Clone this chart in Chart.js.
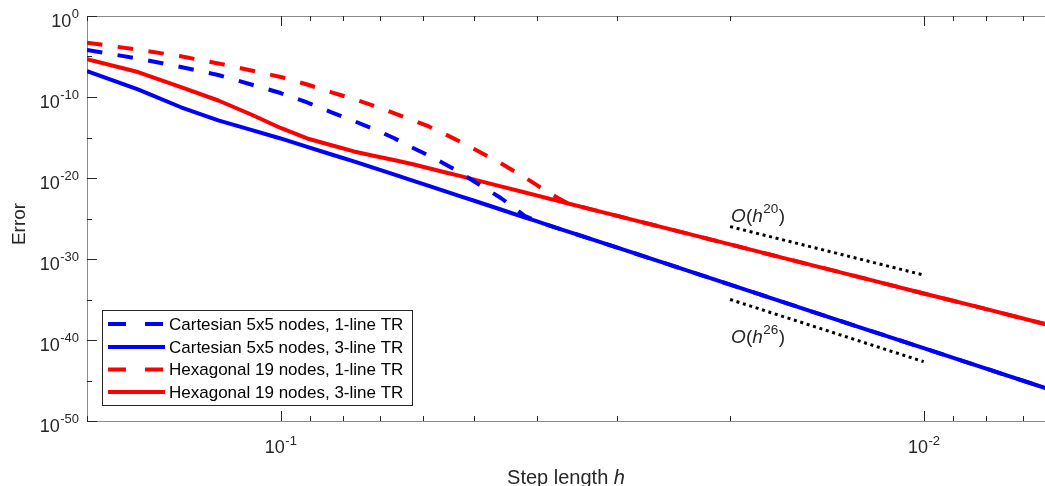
<!DOCTYPE html>
<html><head><meta charset="utf-8">
<script src="https://cdn.jsdelivr.net/npm/chart.js@4/dist/chart.umd.min.js"></script>
<style>html,body{margin:0;padding:0;background:#fff;overflow:hidden}canvas{display:block}</style>
</head><body>
<canvas id="c" width="1045" height="486"></canvas>
<script>
// step lengths h = 1/n
const stepLengths = [0.2, 0.16667, 0.14286, 0.125, 0.11111, 0.1, 0.09091, 0.08333, 0.07692, 0.07143,
  0.06667, 0.0625, 0.05882, 0.05556, 0.05263, 0.05, 0.04545, 0.04167, 0.04, 0.03846,
  0.03704, 0.03571, 0.03333, 0.025, 0.02, 0.01667, 0.0125, 0.01, 0.00833, 0.00667, 0.00625];

const cartesian1Line = [6.3e-5, 5.6e-6, 5.0e-7, 5.2e-8, 3.5e-9, 3.1e-10, 2.1e-11, 1.3e-12, 1.1e-13, 9.8e-15,
  8.7e-16, 5.9e-17, 6.0e-18, 5.4e-19, 4.8e-20, 3.7e-21, 3.4e-23, 2.0e-25, 4.7e-26, 1.66e-26,
  6.2e-27, 2.4e-27, 4.0e-28, 2.3e-31, 6.8e-34, 5.9e-36, 3.2e-39, 9.8e-42, 8.5e-44, 2.6e-46, 4.8e-47];

const cartesian3Line = [1.6e-7, 8.5e-10, 5.4e-12, 1.3e-13, 8.9e-15, 7.6e-16, 6.8e-17, 7.9e-18, 1.1e-18, 1.7e-19,
  2.8e-20, 5.2e-21, 1.05e-21, 2.4e-22, 5.9e-23, 1.55e-23, 1.3e-24, 1.3e-25, 4.7e-26, 1.66e-26,
  6.2e-27, 2.4e-27, 4.0e-28, 2.3e-31, 6.8e-34, 5.9e-36, 3.2e-39, 9.8e-42, 8.5e-44, 2.6e-46, 4.8e-47];

const hexagonal1Line = [5.0e-4, 7.1e-5, 1.05e-5, 1.4e-6, 1.9e-7, 3.0e-8, 3.5e-9, 3.8e-10, 5.6e-11, 7.8e-12,
  1.0e-12, 1.55e-13, 2.3e-14, 2.7e-15, 3.2e-16, 3.8e-17, 6.5e-19, 1.15e-20, 1.4e-21, 1.9e-22,
  3.4e-23, 7.2e-24, 1.8e-24, 5.6e-27, 6.3e-29, 1.6e-30, 5.0e-33, 5.6e-35, 1.5e-36, 1.66e-38, 4.7e-39];

const hexagonal3Line = [4.5e-6, 1.2e-7, 1.7e-9, 3.7e-11, 6.9e-13, 1.5e-14, 7.6e-16, 1.1e-16, 1.9e-17, 5.2e-18,
  1.7e-18, 5.4e-19, 1.6e-19, 5.2e-20, 1.8e-20, 6.2e-21, 9.1e-22, 1.6e-22, 7.1e-23, 3.2e-23,
  1.5e-23, 7.2e-24, 1.8e-24, 5.6e-27, 6.3e-29, 1.6e-30, 5.0e-33, 5.6e-35, 1.5e-36, 1.66e-38, 4.7e-39];

const seriesLabels = ['Cartesian 5x5 nodes, 1-line TR', 'Cartesian 5x5 nodes, 3-line TR',
  'Hexagonal 19 nodes, 1-line TR', 'Hexagonal 19 nodes, 3-line TR'];

// reference slopes
const refStep = [0.02, 0.01];
const ref20 = [1e-26, 1.05e-32];
const ref26 = [1e-35, 2.1e-43];
const refLabels = [['O(h', '20', ')'], ['O(h', '26', ')']];

// ticks
const yTickExponents = [0, -10, -20, -30, -40, -50];
const yMinorExponents = [-5, -15, -25, -35, -45];
const xTickExponents = [-1, -2];
const xMinorTicks = [0.2, 0.09, 0.08, 0.07, 0.06, 0.05, 0.04, 0.03, 0.02, 0.009, 0.008, 0.007];
const xTitle = ['Step length ', 'h'];
const yTitle = 'Error';

const pts = arr => stepLengths.map((h, i) => ({x: h, y: arr[i]}));
const FONT = '"Liberation Sans", Arial, Helvetica, sans-serif';
const DASH = [15.5, 15.5];

const framePlugin = {
  id: 'frame',
  beforeDatasetsDraw(chart) {
    const {ctx, chartArea: a, scales: {x, y}} = chart;
    ctx.save();
    // axis lines
    ctx.strokeStyle = '#8a8a8a';
    ctx.lineWidth = 1;
    ctx.beginPath();
    ctx.moveTo(a.left + 0.5, a.top + 0.5); ctx.lineTo(a.left + 0.5, a.bottom + 0.5);
    ctx.moveTo(a.left, a.bottom + 0.5); ctx.lineTo(a.right, a.bottom + 0.5);
    ctx.moveTo(a.left, a.top + 0.5); ctx.lineTo(a.right, a.top + 0.5);
    ctx.stroke();
    // ticks
    ctx.strokeStyle = '#262626';
    ctx.beginPath();
    const yt = (e, len) => {
      const py = Math.round(y.getPixelForValue(Math.pow(10, e))) + 0.5;
      ctx.moveTo(a.left, py); ctx.lineTo(a.left + len, py);
    };
    yTickExponents.forEach(e => yt(e, 10));
    yMinorExponents.forEach(e => yt(e, 5));
    const xt = (v, len) => {
      const px = Math.round(x.getPixelForValue(v)) + 0.5;
      ctx.moveTo(px, a.bottom); ctx.lineTo(px, a.bottom - len);
      ctx.moveTo(px, a.top); ctx.lineTo(px, a.top + len);
    };
    xTickExponents.forEach(e => xt(Math.pow(10, e), 10));
    xMinorTicks.forEach(v => xt(v, 5));
    ctx.stroke();

    // tick labels
    ctx.fillStyle = '#262626';
    ctx.textBaseline = 'alphabetic';
    const baseF = '18px ' + FONT, supF = '13px ' + FONT;
    const measure = (b, s) => {
      ctx.font = baseF; const wb = ctx.measureText(b).width;
      ctx.font = supF; const ws = ctx.measureText(s).width;
      return [wb, ws];
    };
    const drawPow = (b, s, left, baseY, supY) => {
      const [wb] = measure(b, s);
      ctx.textAlign = 'left';
      ctx.font = baseF; ctx.fillText(b, left, baseY);
      ctx.font = supF; ctx.fillText(s, left + wb + 0.5, supY);
    };
    yTickExponents.forEach(e => {
      const py = y.getPixelForValue(Math.pow(10, e));
      const s = String(e);
      const [wb, ws] = measure('10', s);
      drawPow('10', s, 79 - wb - ws - 0.5, py + 11, py + 1.5);
    });
    xTickExponents.forEach(e => {
      const px = x.getPixelForValue(Math.pow(10, e));
      const s = String(e);
      const [wb, ws] = measure('10', s);
      drawPow('10', s, px - (wb + ws) / 2, a.bottom + 32, a.bottom + 24);
    });

    // axis titles
    ctx.font = '20px ' + FONT;
    const w1 = ctx.measureText(xTitle[0]).width;
    ctx.font = 'italic 20px ' + FONT;
    const w2 = ctx.measureText(xTitle[1]).width;
    const cx = (a.left + a.right) / 2;
    const sx = cx - (w1 + w2) / 2;
    ctx.textAlign = 'left';
    ctx.font = '20px ' + FONT; ctx.fillText(xTitle[0], sx, 484);
    ctx.font = 'italic 20px ' + FONT; ctx.fillText(xTitle[1], sx + w1, 484);

    ctx.save();
    ctx.translate(25, 224);
    ctx.rotate(-Math.PI / 2);
    ctx.textAlign = 'center';
    ctx.font = '19px ' + FONT;
    ctx.fillText(yTitle, 0, 0);
    ctx.restore();
    ctx.restore();
  },
  afterDraw(chart) {
    const {ctx, scales: {x, y}} = chart;
    ctx.save();
    ctx.fillStyle = '#262626';
    // slope annotations
    const ann = (lab, px, baseY, supY) => {
      let cx = px;
      ctx.textAlign = 'left';
      ctx.font = 'italic 19px ' + FONT; ctx.fillText('O', cx, baseY); cx += ctx.measureText('O').width;
      ctx.font = '19px ' + FONT; ctx.fillText('(', cx, baseY); cx += ctx.measureText('(').width;
      ctx.font = 'italic 19px ' + FONT; ctx.fillText('h', cx, baseY); cx += ctx.measureText('h').width + 0.5;
      ctx.font = '13.5px ' + FONT; ctx.fillText(lab[1], cx, supY); cx += ctx.measureText(lab[1]).width + 0.5;
      ctx.font = '19px ' + FONT; ctx.fillText(')', cx, baseY);
    };
    const ax = x.getPixelForValue(refStep[0]);
    ann(refLabels[0], ax + 1, 222, 213);
    ann(refLabels[1], ax + 1, 343, 334);

    // legend
    const L = 102.5, T = 310.5, R = 412.5, B = 405.5;
    ctx.fillStyle = '#fff';
    ctx.fillRect(L, T, R - L, B - T);
    ctx.strokeStyle = '#262626';
    ctx.lineWidth = 1;
    ctx.strokeRect(L, T, R - L, B - T);
    const rows = [324, 347, 369.5, 392];
    chart.data.datasets.slice(0, 4).forEach((ds, i) => {
      const yy = rows[i];
      ctx.strokeStyle = ds.borderColor;
      ctx.lineWidth = 4;
      ctx.lineCap = 'butt';
      ctx.setLineDash(ds.borderDash && ds.borderDash.length ? [18, 19] : []);
      ctx.beginPath(); ctx.moveTo(108, yy); ctx.lineTo(165, yy); ctx.stroke();
      ctx.setLineDash([]);
      ctx.fillStyle = '#000';
      ctx.font = '17px ' + FONT;
      ctx.textAlign = 'left';
      ctx.textBaseline = 'middle';
      ctx.fillText(ds.label, 169, yy + 1);
    });
    ctx.restore();
  }
};

new Chart(document.getElementById('c'), {
  type: 'scatter',
  data: {
    datasets: [
      {label: seriesLabels[0], data: pts(cartesian1Line), borderColor: '#0000ff', borderDash: DASH, order: 2},
      {label: seriesLabels[1], data: pts(cartesian3Line), borderColor: '#0000ff', borderDash: [], order: 4},
      {label: seriesLabels[2], data: pts(hexagonal1Line), borderColor: '#ff0000', borderDash: DASH, order: 1},
      {label: seriesLabels[3], data: pts(hexagonal3Line), borderColor: '#ff0000', borderDash: [], order: 3},
      {label: 'ref20', data: refStep.map((h, i) => ({x: h, y: ref20[i]})), borderColor: '#000', borderDash: [3, 3.7], borderWidth: 3, order: 0},
      {label: 'ref26', data: refStep.map((h, i) => ({x: h, y: ref26[i]})), borderColor: '#000', borderDash: [3, 3.7], borderWidth: 3, order: 0}
    ].map(d => Object.assign({showLine: true, pointRadius: 0, borderWidth: 4, tension: 0,
      borderCapStyle: 'butt', borderJoinStyle: 'round', fill: false}, d))
  },
  options: {
    responsive: false,
    animation: false,
    devicePixelRatio: 1,
    events: [],
    layout: {padding: {left: 87, right: 0, top: 16, bottom: 65}},
    plugins: {legend: {display: false}, tooltip: {enabled: false}, title: {display: false}},
    scales: {
      x: {type: 'logarithmic', reverse: true, min: 0.006477, max: 0.2, display: false},
      y: {type: 'logarithmic', min: 1e-50, max: 1, display: false}
    }
  },
  plugins: [framePlugin]
});
</script>
</body></html>
